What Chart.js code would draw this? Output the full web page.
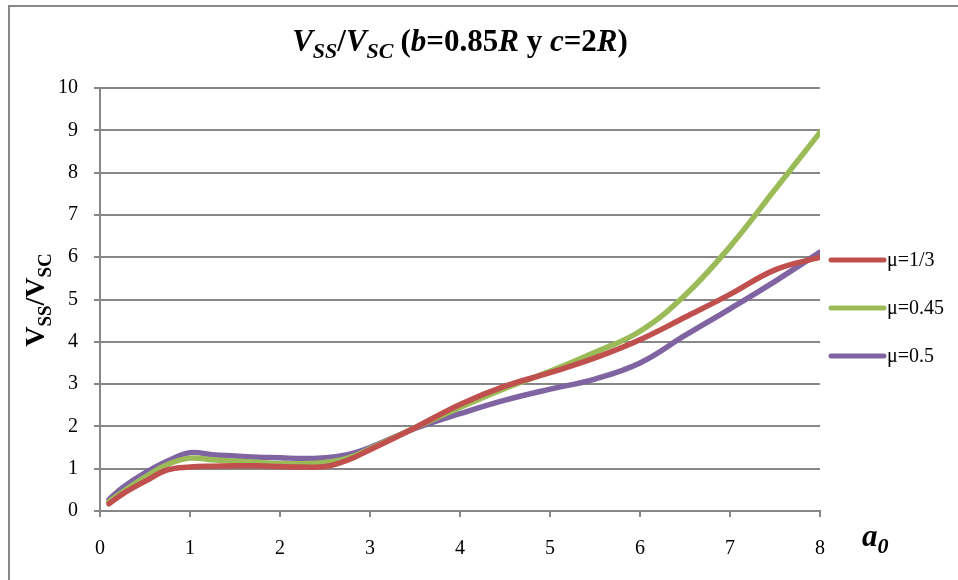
<!DOCTYPE html>
<html>
<head>
<meta charset="utf-8">
<script src="https://cdn.jsdelivr.net/npm/chart.js@4"></script>
<style>
  html, body { margin: 0; padding: 0; background: #fff; }
  #wrap { position: absolute; left: 0; top: 0; width: 958px; height: 580px; }
  #frame { position: absolute; left: 8px; top: 5px; width: 960px; height: 600px;
           border-left: 2px solid #878787; border-top: 2px solid #878787; }
</style>
</head>
<body>
<div id="wrap">
  <div id="frame"></div>
  <canvas id="chart" width="958" height="580"></canvas>
</div>
<script>
// a0 values (x axis)
const aValues = [0.1, 0.25, 0.5, 0.75, 1, 1.25, 1.5, 1.75, 2, 2.25, 2.5, 2.75, 3, 3.5, 4, 4.5, 5, 5.5, 6, 6.5, 7, 7.5, 8];

// Vss/Vsc for each mu
const mu13 = [0.17, 0.4, 0.7, 0.97, 1.04, 1.06, 1.07, 1.07, 1.05, 1.04, 1.05, 1.2, 1.45, 1.97, 2.52, 2.95, 3.27, 3.62, 4.05, 4.58, 5.12, 5.7, 6.0];
const mu045 = [0.22, 0.45, 0.8, 1.1, 1.25, 1.21, 1.18, 1.15, 1.12, 1.12, 1.15, 1.25, 1.47, 1.97, 2.45, 2.9, 3.3, 3.75, 4.25, 5.1, 6.25, 7.6, 8.95];
const mu05 = [0.27, 0.55, 0.9, 1.18, 1.38, 1.33, 1.3, 1.27, 1.26, 1.24, 1.26, 1.33, 1.5, 1.95, 2.3, 2.62, 2.88, 3.12, 3.5, 4.15, 4.78, 5.43, 6.12];

const seriesLabels = ['\u03bc=1/3', '\u03bc=0.45', '\u03bc=0.5'];
const seriesColors = ['#C0504D', '#9BBB59', '#8064A2'];
const yTicks = [0, 1, 2, 3, 4, 5, 6, 7, 8, 9, 10];
const xTicks = [0, 1, 2, 3, 4, 5, 6, 7, 8];

const serif = '"Liberation Serif", "Times New Roman", serif';
const gridGray = '#878787';

function toPoints(ys) {
  return ys.map((y, i) => ({ x: aValues[i], y: y }));
}

// draw a run of text pieces, each with its own style, starting at x
function drawRuns(ctx, runs, x, y) {
  runs.forEach(r => {
    ctx.font = r.font;
    ctx.fillText(r.t, x, y + (r.dy || 0));
    x += ctx.measureText(r.t).width + (r.gap || 0);
  });
  return x;
}
function runsWidth(ctx, runs) {
  let w = 0;
  runs.forEach(r => { ctx.font = r.font; w += ctx.measureText(r.t).width + (r.gap || 0); });
  return w;
}

// title, axis labels and legend
const textPlugin = {
  id: 'texts',
  afterDraw(chart) {
    const ctx = chart.ctx;
    ctx.save();
    ctx.fillStyle = '#000';
    ctx.textBaseline = 'alphabetic';
    ctx.textAlign = 'left';

    // title
    const bi = 'italic bold 31px ' + serif;
    const b = 'bold 31px ' + serif;
    const bis = 'italic bold 22px ' + serif;
    const title = [
      { t: 'V', font: bi },
      { t: 'SS', font: bis, dy: 7 },
      { t: '/', font: b },
      { t: 'V', font: bi },
      { t: 'SC', font: bis, dy: 7, gap: 7 },
      { t: '(', font: b },
      { t: 'b', font: bi },
      { t: '=0.85', font: b },
      { t: 'R', font: bi },
      { t: ' y ', font: b },
      { t: 'c', font: bi },
      { t: '=2', font: b },
      { t: 'R', font: bi },
      { t: ')', font: b }
    ];
    const tw = runsWidth(ctx, title);
    drawRuns(ctx, title, 460 - tw / 2, 51);

    // y axis title (rotated)
    const yb = 'bold 28px ' + serif;
    const ybs = 'bold 19px ' + serif;
    const ytitle = [
      { t: 'V', font: yb },
      { t: 'SS', font: ybs, dy: 7 },
      { t: '/V', font: yb },
      { t: 'SC', font: ybs, dy: 7 }
    ];
    ctx.save();
    ctx.translate(44, 300);
    ctx.rotate(-Math.PI / 2);
    const yw = runsWidth(ctx, ytitle);
    drawRuns(ctx, ytitle, -yw / 2, 0);
    ctx.restore();

    // x axis title
    drawRuns(ctx, [
      { t: 'a', font: 'italic bold 31px ' + serif },
      { t: '0', font: 'italic bold 22px ' + serif, dy: 7 }
    ], 862, 546);

    // legend
    ctx.lineCap = 'round';
    ctx.lineWidth = 5;
    ctx.textBaseline = 'middle';
    ctx.font = '20px ' + serif;
    const legendY = [260, 308, 356];
    seriesLabels.forEach((label, i) => {
      ctx.strokeStyle = seriesColors[i];
      ctx.beginPath();
      ctx.moveTo(831, legendY[i]);
      ctx.lineTo(884, legendY[i]);
      ctx.stroke();
      ctx.fillStyle = '#000';
      ctx.fillText(label, 887, legendY[i] + 1);
    });
    ctx.restore();
  }
};

const datasets = [mu13, mu045, mu05].map((ys, i) => ({
  label: seriesLabels[i],
  data: toPoints(ys),
  borderColor: seriesColors[i],
  backgroundColor: seriesColors[i],
  borderWidth: 5.5,
  borderCapStyle: 'round',
  borderJoinStyle: 'round',
  pointRadius: 0,
  tension: 0.4,
  fill: false
}));

new Chart(document.getElementById('chart'), {
  type: 'line',
  data: { datasets: datasets },
  options: {
    responsive: false,
    animation: false,
    layout: { padding: { left: 0, top: 88, right: 138, bottom: 24 } },
    plugins: {
      legend: { display: false },
      tooltip: { enabled: false }
    },
    scales: {
      x: {
        type: 'linear',
        min: 0,
        max: 8,
        afterFit: s => { s.height = 45; },
        afterBuildTicks: s => { s.ticks = xTicks.map(v => ({ value: v })); },
        border: { color: gridGray, width: 2 },
        grid: { display: true, drawOnChartArea: false, drawTicks: true, tickLength: 6, color: gridGray, lineWidth: 2 },
        ticks: { color: '#000', font: { family: serif, size: 20 }, padding: 20, maxRotation: 0 }
      },
      y: {
        min: 0,
        max: 10,
        afterFit: s => { s.width = 100; },
        afterBuildTicks: s => { s.ticks = yTicks.map(v => ({ value: v })); },
        border: { color: gridGray, width: 2 },
        grid: { color: gridGray, lineWidth: 2, tickLength: 6 },
        ticks: { color: '#000', font: { family: serif, size: 20 }, padding: 16 }
      }
    }
  },
  plugins: [textPlugin]
});
</script>
</body>
</html>
